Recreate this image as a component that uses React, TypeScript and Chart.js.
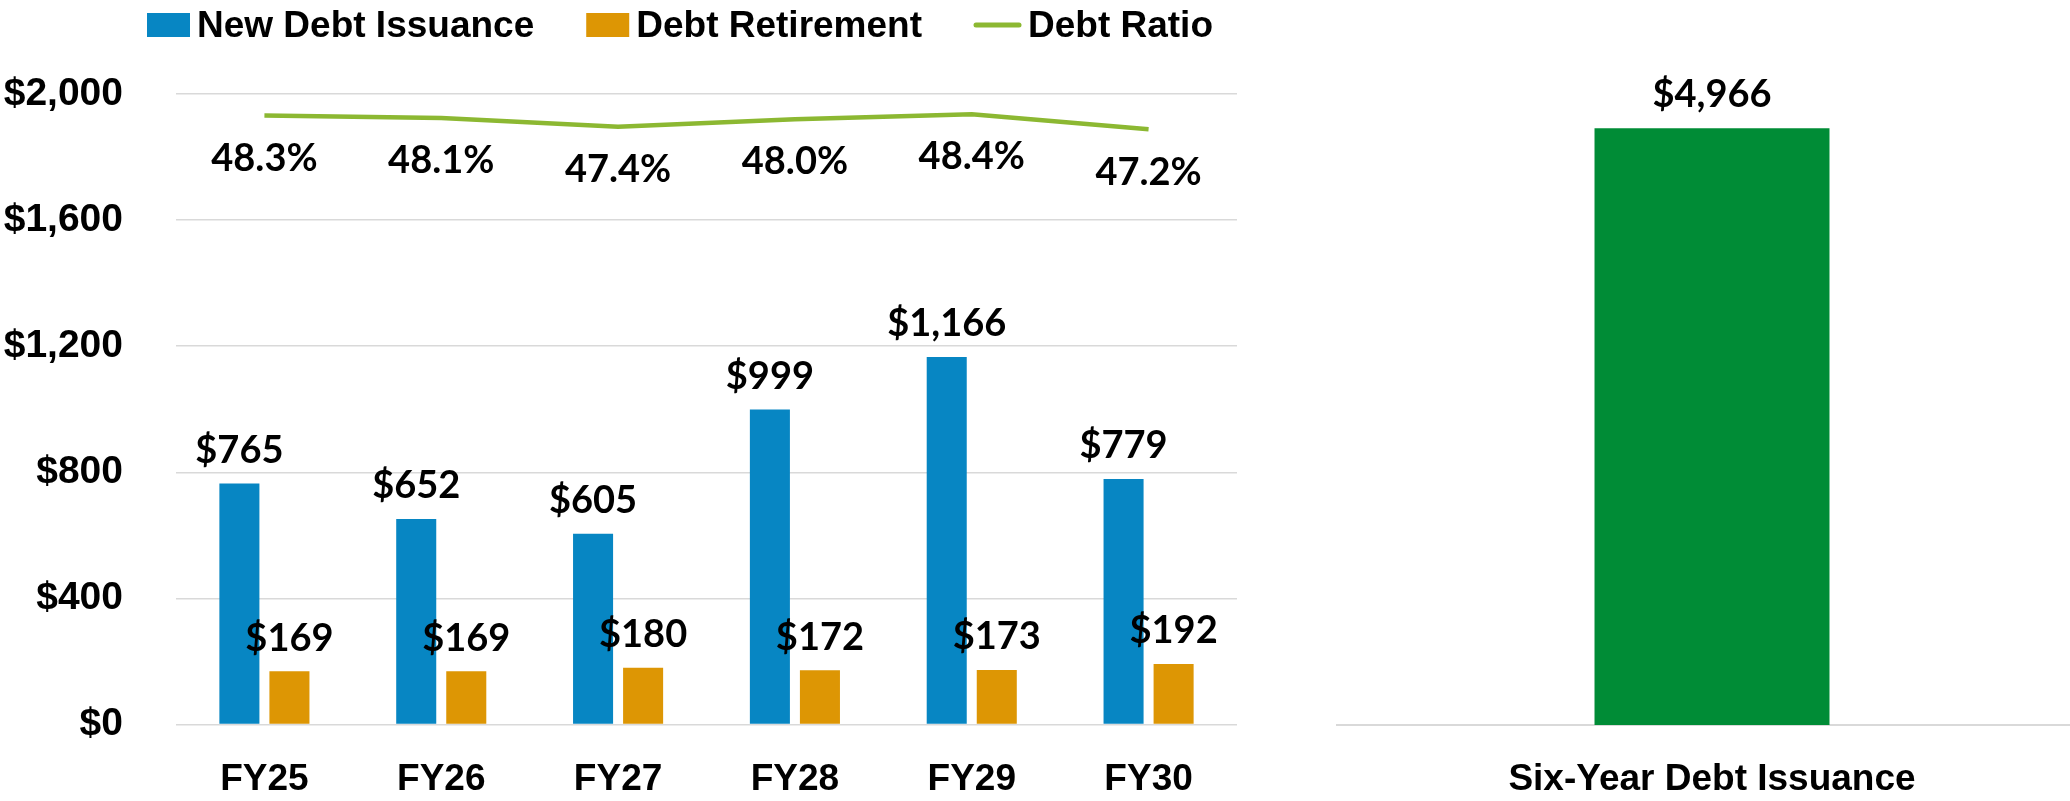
import React, { useEffect, useRef } from 'react';
import { Chart, registerables } from 'chart.js';

Chart.register(...registerables);

const categories = ['FY25', 'FY26', 'FY27', 'FY28', 'FY29', 'FY30'];
const newDebtIssuance = [765, 652, 605, 999, 1166, 779];
const debtRetirement = [169, 169, 180, 172, 173, 192];
const debtRatio = [48.3, 48.1, 47.4, 48.0, 48.4, 47.2];
const totalCategories = ['Six-Year Debt Issuance'];
const totalIssuance = [4966];

const BLUE = '#0786C3';
const ORANGE = '#DD9604';
const LINE_GREEN = '#8CB832';
const BAR_GREEN = '#008C36';
const GRID = '#D9D9D9';

const LABEL_FONT = 'bold 38px Lato';
const AXIS_FONT = { family: '"Liberation Sans", Arial, sans-serif', weight: 'bold' as const, size: 37 };
const Y_FONT = { family: '"Liberation Sans", Arial, sans-serif', weight: 'bold' as const, size: 39 };

const money = (v: number) => '$' + Number(v).toLocaleString('en-US');

const valueLabels = {
  id: 'valueLabels',
  afterDatasetsDraw(chart: any) {
    const ctx = chart.ctx;
    ctx.save();
    ctx.font = LABEL_FONT;
    ctx.fillStyle = '#000';
    ctx.textAlign = 'center';
    ctx.textBaseline = 'middle';
    chart.data.datasets.forEach((ds: any, di: number) => {
      const meta = chart.getDatasetMeta(di);
      if (!chart.isDatasetVisible(di)) return;
      meta.data.forEach((el: any, i: number) => {
        const v = ds.data[i];
        if (meta.type === 'line') {
          ctx.fillText(v.toFixed(1) + '%', el.x, el.y + 43);
        } else {
          ctx.fillText(money(v), el.x, el.y - 33);
        }
      });
    });
    ctx.restore();
  },
};

const customLegend = {
  id: 'customLegend',
  afterDraw(chart: any) {
    const ctx = chart.ctx;
    ctx.save();
    ctx.font = 'bold 37px "Liberation Sans", Arial, sans-serif';
    ctx.textAlign = 'left';
    ctx.textBaseline = 'alphabetic';
    let x = 147;
    const cy = 25;
    chart.data.datasets.forEach((ds: any) => {
      const isLine = ds.type === 'line';
      const markerW = isLine ? 47 : 43;
      if (isLine) {
        ctx.strokeStyle = ds.borderColor;
        ctx.lineWidth = 5;
        ctx.lineCap = 'round';
        ctx.beginPath();
        ctx.moveTo(x + 2, cy);
        ctx.lineTo(x + markerW - 2, cy);
        ctx.stroke();
      } else {
        ctx.fillStyle = ds.backgroundColor;
        ctx.fillRect(x, cy - 12, markerW, 24);
      }
      x += markerW + 7;
      ctx.fillStyle = '#000';
      ctx.fillText(ds.label, x, 37);
      x += ctx.measureText(ds.label).width + 52;
    });
    ctx.restore();
  },
};

export default function App() {
  const leftRef = useRef<HTMLCanvasElement>(null);
  const rightRef = useRef<HTMLCanvasElement>(null);

  useEffect(() => {
    const left = new Chart(leftRef.current as HTMLCanvasElement, {
      type: 'bar',
      data: {
        labels: categories,
        datasets: [
          {
            type: 'bar',
            label: 'New Debt Issuance',
            data: newDebtIssuance,
            backgroundColor: BLUE,
            categoryPercentage: 0.566,
            barPercentage: 0.8,
            yAxisID: 'y',
            order: 2,
          },
          {
            type: 'bar',
            label: 'Debt Retirement',
            data: debtRetirement,
            backgroundColor: ORANGE,
            categoryPercentage: 0.566,
            barPercentage: 0.8,
            yAxisID: 'y',
            order: 3,
          },
          {
            type: 'line',
            label: 'Debt Ratio',
            data: debtRatio,
            borderColor: LINE_GREEN,
            backgroundColor: LINE_GREEN,
            borderWidth: 4.5,
            pointRadius: 0,
            tension: 0,
            yAxisID: 'y1',
            order: 1,
          } as any,
        ],
      },
      options: {
        responsive: false,
        animation: false,
        layout: { padding: { top: 94, right: 63, left: 0, bottom: 0 } },
        plugins: { legend: { display: false }, tooltip: { enabled: false } },
        scales: {
          x: {
            grid: { display: false, drawTicks: false },
            border: { display: false },
            ticks: { color: '#000', font: AXIS_FONT, padding: 33 },
            afterFit: (s: any) => { s.height = 76; },
          },
          y: {
            min: 0,
            max: 2000,
            ticks: { stepSize: 400, color: '#000', font: Y_FONT, padding: 53, callback: (v: any) => money(v) },
            grid: { color: GRID, lineWidth: 1.5, drawTicks: false },
            border: { display: false },
            afterFit: (s: any) => { s.width = 176; },
          },
          y1: { display: false, min: 0, max: 50 },
        },
      },
      plugins: [valueLabels, customLegend],
    });

    const right = new Chart(rightRef.current as HTMLCanvasElement, {
      type: 'bar',
      data: {
        labels: totalCategories,
        datasets: [
          {
            label: 'Six-Year Debt Issuance',
            data: totalIssuance,
            backgroundColor: BAR_GREEN,
            categoryPercentage: 1,
            barPercentage: 0.3133,
          },
        ],
      },
      options: {
        responsive: false,
        animation: false,
        layout: { padding: { top: 94, right: 13, left: 37, bottom: 0 } },
        plugins: { legend: { display: false }, tooltip: { enabled: false } },
        scales: {
          x: {
            grid: { display: false, drawTicks: false },
            border: { display: true, color: GRID, width: 2 },
            ticks: { color: '#000', font: AXIS_FONT, padding: 33 },
            afterFit: (s: any) => { s.height = 76; },
          },
          y: { display: false, min: 0, max: 5250 },
        },
      },
      plugins: [valueLabels],
    });

    return () => {
      left.destroy();
      right.destroy();
    };
  }, []);

  return (
    <div style={{ position: 'absolute', left: 0, top: 0, width: 2070, height: 801, overflow: 'hidden', background: '#fff' }}>
      <div style={{ position: 'absolute', left: 0, top: 0, width: 1300, height: 801 }}>
        <canvas ref={leftRef} width={1300} height={801} style={{ width: 1300, height: 801 }} />
      </div>
      <div style={{ position: 'absolute', left: 1300, top: 0, width: 800, height: 801 }}>
        <canvas ref={rightRef} width={800} height={801} style={{ width: 800, height: 801 }} />
      </div>
    </div>
  );
}
